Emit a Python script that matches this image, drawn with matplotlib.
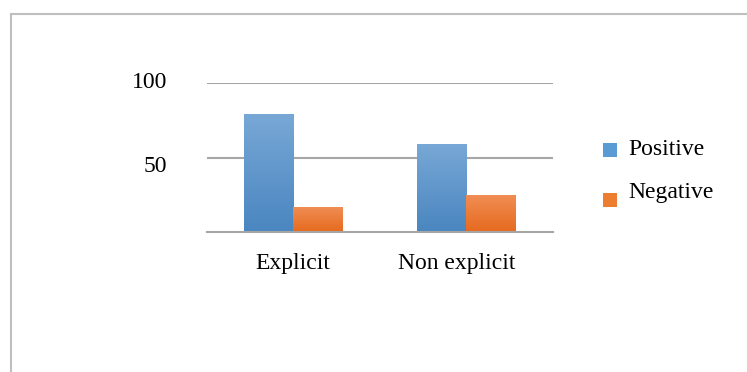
import numpy as np
import matplotlib.pyplot as plt
from matplotlib.lines import Line2D
from matplotlib.patches import Rectangle
from matplotlib.colors import LinearSegmentedColormap
from matplotlib.transforms import ScaledTranslation

plt.rcParams['font.family'] = ['Liberation Serif', 'DejaVu Serif']

categories = ['Explicit', 'Non explicit']
series_names = ['Positive', 'Negative']
positive = [79, 59]
negative = [17, 25]
y_ticks = [50, 100]

colors = ['#5B9BD5', '#ED7D31']
grads = [('#4A86C0', '#78A8D6'), ('#E66A1E', '#F08E55')]

fig = plt.figure(figsize=(7.47, 3.72), dpi=100)
ax = fig.add_axes([0.2767, 0.3755, 0.4632, 0.4022])

x = np.arange(len(categories))
w = 0.286
for i, vals in enumerate([positive, negative]):
    offs = (i - 0.5) * w
    bars = ax.bar(x + offs, vals, width=w, color=colors[i], edgecolor='none', zorder=2)
    cmap = LinearSegmentedColormap.from_list('g%d' % i, grads[i])
    grad = np.linspace(0, 1, 100).reshape(-1, 1)
    for b in bars:
        bx, by = b.get_x(), b.get_y()
        im = ax.imshow(grad, cmap=cmap, origin='lower', aspect='auto',
                       extent=[bx, bx + b.get_width(), by, by + b.get_height()], zorder=3)
        im.set_clip_path(b)

ax.set_xlim(-0.5, 1.5)
ax.set_ylim(0, 100)
ax.set_yticks(y_ticks)
ax.set_yticklabels([str(t) for t in y_ticks], fontsize=17)
ax.set_xticks(x)
ax.set_xticklabels(categories, fontsize=17)
ax.tick_params(axis='y', length=0, pad=28.5)
ax.tick_params(axis='x', length=0, pad=15)
ax.yaxis.grid(True, color='#A6A6A6', linewidth=1.5, zorder=1)
ax.set_axisbelow(True)
for s in ['top', 'left', 'right']:
    ax.spines[s].set_visible(False)
ax.spines['bottom'].set_color('#A6A6A6')
ax.spines['bottom'].set_linewidth(1.5)
ax.spines['bottom'].set_zorder(4)

# small nudges of individual tick labels
ylabs = ax.get_yticklabels()
ylabs[0].set_transform(ylabs[0].get_transform() + ScaledTranslation(0, -5 / 72, fig.dpi_scale_trans))
ylabs[1].set_transform(ylabs[1].get_transform() + ScaledTranslation(0, 2 / 72, fig.dpi_scale_trans))
xlabs = ax.get_xticklabels()
xlabs[1].set_transform(xlabs[1].get_transform() + ScaledTranslation(-7 / 72, 0, fig.dpi_scale_trans))

# legend: square keys sitting a bit below their labels
key_bottoms = [0.578, 0.4435]
text_baselines = [0.5833, 0.4677]
for c, name, kb, tb in zip(colors, series_names, key_bottoms, text_baselines):
    fig.add_artist(Rectangle((0.8072, kb), 0.0187, 0.0376, facecolor=c, edgecolor='none',
                             transform=fig.transFigure))
    fig.text(0.8407, tb, name, fontsize=17, va='baseline', ha='left')

# outer frame lines along top and left
fig.add_artist(Line2D([0.0147, 1.0], [0.963, 0.963], color='#BFBFBF', linewidth=1.5,
                      transform=fig.transFigure))
fig.add_artist(Line2D([0.0147, 0.0147], [0.0, 0.963], color='#BFBFBF', linewidth=1.5,
                      transform=fig.transFigure))

fig.savefig('out.png', dpi=100)
